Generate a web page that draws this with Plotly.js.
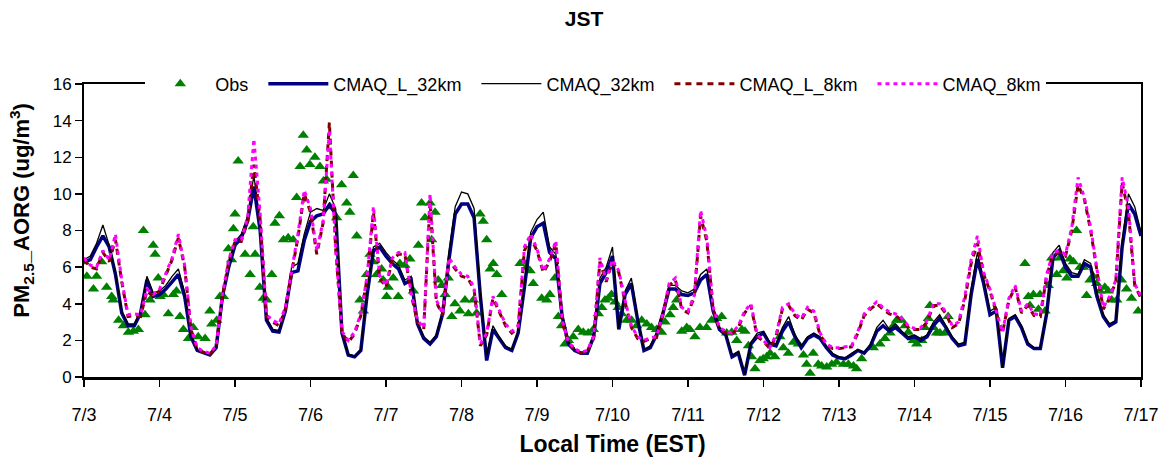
<!DOCTYPE html>
<html>
<head>
<meta charset="utf-8">
<script src="https://cdn.plot.ly/plotly-3.0.1.min.js"></script>
<style>
html, body { margin: 0; padding: 0; background: #fff; }
#chart { width: 1168px; height: 460px; }
</style>
</head>
<body>
<div id="chart"></div>
<script>
// Day labels on the time axis (one tick per midnight, EST)
const dayLabels = ['7/3', '7/4', '7/5', '7/6', '7/7', '7/8', '7/9', '7/10',
                   '7/11', '7/12', '7/13', '7/14', '7/15', '7/16', '7/17'];

// Model output: every 2 hours starting 7/3 00:00 (one row per day + final point)
const modelStepHours = 2;

const cmaqL32km = [
  6.3, 6.4, 7.1, 7.7, 7.1, 5.6, 3.5, 2.8, 2.8, 3.5, 5.3, 4.4,
  4.5, 4.8, 5.2, 5.6, 4.4, 2.2, 1.45, 1.3, 1.2, 1.6, 4.4, 6.0,
  7.2, 7.6, 8.5, 10.4, 8.0, 3.1, 2.5, 2.45, 3.6, 5.7, 5.8, 7.45,
  8.5, 8.8, 8.9, 9.4, 8.9, 2.4, 1.2, 1.1, 1.45, 4.5, 6.9, 7.1,
  6.6, 6.2, 5.9, 5.1, 5.3, 2.9, 2.1, 1.8, 2.2, 3.45, 6.4, 8.9,
  9.45, 9.45, 8.7, 4.4, 0.9, 2.6, 2.1, 1.6, 1.45, 2.4, 4.9, 7.6,
  8.2, 8.4, 6.8, 6.45, 3.3, 1.8, 1.45, 1.3, 1.3, 2.2, 5.1, 5.7,
  6.6, 2.6, 4.5, 5.1, 3.1, 1.45, 1.6, 2.3, 3.45, 4.8, 4.8, 4.5,
  4.45, 4.6, 5.3, 5.6, 3.6, 2.6, 2.3, 1.1, 1.3, 0.1, 1.8, 2.2,
  2.4, 1.8, 1.7, 2.5, 3.0, 2.2, 1.6, 2.1, 2.3, 2.1, 1.6, 1.2,
  1.05, 1.0, 1.2, 1.45, 1.3, 1.7, 2.5, 2.8, 2.5, 2.7, 2.4, 2.1,
  2.2, 2.0, 2.2, 2.8, 3.2, 2.7, 2.1, 1.7, 1.8, 4.5, 6.45, 5.1,
  3.4, 3.6, 0.5, 3.1, 3.3, 2.7, 1.8, 1.55, 1.55, 3.45, 6.5, 6.9,
  6.0, 5.5, 5.5, 6.2, 6.0, 4.4, 3.3, 2.8, 3.0, 7.1, 9.45, 8.9,
  7.7
];

const cmaq32km = [
  6.4, 6.6, 7.3, 8.3, 7.2, 5.7, 3.6, 2.9, 2.9, 3.6, 5.5, 4.6,
  4.7, 5.0, 5.5, 5.9, 4.6, 2.3, 1.5, 1.35, 1.25, 1.7, 4.6, 6.2,
  7.4, 7.8, 8.8, 11.0, 8.5, 3.2, 2.6, 2.55, 3.8, 6.0, 6.2, 7.8,
  9.0, 9.2, 9.1, 10.0, 9.2, 2.5, 1.25, 1.15, 1.5, 4.7, 7.1, 7.3,
  6.8, 6.4, 6.1, 5.3, 5.5, 3.0, 2.2, 1.9, 2.3, 3.6, 6.8, 9.3,
  10.1, 10.0, 9.2, 4.6, 1.2, 2.8, 2.2, 1.7, 1.5, 2.5, 5.1, 7.9,
  8.6, 9.0, 7.1, 6.7, 3.4, 1.9, 1.5, 1.35, 1.35, 2.3, 5.4, 6.0,
  7.1, 2.7, 4.7, 5.4, 3.2, 1.5, 1.7, 2.4, 3.6, 5.0, 5.0, 4.7,
  4.6, 4.8, 5.6, 5.9, 3.8, 2.7, 2.4, 1.2, 1.4, 0.15, 1.9, 2.4,
  2.5, 1.9, 1.8, 2.7, 3.3, 2.3, 1.7, 2.2, 2.4, 2.2, 1.7, 1.3,
  1.1, 1.05, 1.3, 1.5, 1.35, 1.8, 2.7, 3.1, 2.6, 2.9, 2.5, 2.2,
  2.3, 2.1, 2.3, 3.0, 3.4, 2.8, 2.2, 1.8, 1.9, 4.8, 6.8, 5.3,
  3.6, 3.8, 0.55, 3.2, 3.4, 2.8, 1.9, 1.6, 1.6, 3.6, 6.8, 7.2,
  6.2, 5.7, 5.6, 6.4, 6.2, 4.6, 3.4, 2.9, 3.1, 7.4, 10.0, 9.3,
  7.9
];

const cmaqL8km = [
  6.4, 6.0, 5.9, 6.8, 6.3, 7.5, 5.2, 3.3, 3.35, 3.3, 4.7, 4.4,
  4.7, 5.5, 6.4, 7.6, 6.0, 2.6, 1.5, 1.35, 1.25, 1.65, 4.4, 6.3,
  7.4, 7.4, 8.5, 11.6, 8.6, 3.3, 3.0, 2.8, 3.7, 5.7, 7.6, 10.0,
  9.0, 6.7, 8.4, 13.9, 7.0, 2.4, 1.9, 2.35, 3.35, 5.4, 9.0, 5.4,
  4.9, 6.4, 6.7, 6.7, 4.5, 3.0, 2.6, 9.6, 4.1, 3.35, 6.4, 5.9,
  5.5, 5.4, 4.8, 1.7, 2.3, 4.3, 3.5, 2.8, 2.4, 2.7, 6.9, 7.6,
  6.9, 5.7, 6.3, 7.3, 3.0, 1.85, 1.5, 1.3, 1.4, 2.1, 6.3, 5.2,
  6.3, 5.7, 4.1, 2.7, 2.1, 1.95, 2.1, 2.15, 3.35, 5.0, 5.3, 3.7,
  3.5, 4.35, 8.8, 7.4, 3.7, 2.6, 2.4, 2.35, 2.7, 3.5, 3.9, 2.2,
  1.95, 1.55, 2.2, 3.7, 3.9, 3.35, 3.1, 3.7, 3.5, 2.3, 1.75, 1.55,
  1.55, 1.6, 1.65, 2.4, 3.35, 3.7, 4.0, 3.7, 3.45, 3.35, 3.1, 2.7,
  2.6, 2.6, 3.0, 3.9, 3.9, 3.45, 2.7, 2.9, 4.2, 6.2, 7.3, 5.6,
  4.7, 3.5, 2.4, 4.2, 4.9, 3.5, 3.9, 3.35, 3.3, 5.5, 6.7, 6.8,
  6.6, 8.0, 10.5, 9.7, 8.0, 5.8, 3.7, 4.3, 5.2, 10.6, 9.0, 5.0,
  4.3
];

const cmaq8km = [
  6.5, 6.1, 6.0, 6.9, 6.4, 7.8, 5.3, 3.4, 3.45, 3.4, 4.8, 4.5,
  4.8, 5.6, 6.5, 7.8, 6.1, 2.7, 1.6, 1.4, 1.3, 1.7, 4.5, 6.4,
  7.5, 7.5, 8.7, 13.0, 8.9, 3.4, 3.1, 2.9, 3.8, 5.8, 7.8, 10.2,
  9.2, 6.9, 8.5, 13.5, 7.0, 2.5, 2.0, 2.45, 3.45, 5.5, 9.3, 5.5,
  5.0, 6.5, 6.8, 6.8, 4.6, 3.1, 2.7, 10.0, 4.2, 3.45, 6.5, 6.0,
  5.6, 5.5, 4.9, 1.8, 2.4, 4.4, 3.6, 2.9, 2.5, 2.8, 7.1, 7.8,
  7.0, 5.8, 6.45, 7.45, 3.1, 1.9, 1.55, 1.35, 1.45, 2.2, 6.5, 5.3,
  6.4, 5.8, 4.2, 2.8, 2.2, 2.0, 2.15, 2.2, 3.45, 5.1, 5.4, 3.8,
  3.6, 4.45, 9.1, 7.6, 3.8, 2.7, 2.5, 2.4, 2.8, 3.6, 4.0, 2.3,
  2.0, 1.6, 2.3, 3.8, 4.0, 3.45, 3.2, 3.8, 3.6, 2.4, 1.8, 1.6,
  1.6, 1.65, 1.7, 2.5, 3.45, 3.8, 4.1, 3.8, 3.55, 3.45, 3.2, 2.8,
  2.65, 2.7, 3.1, 4.0, 4.0, 3.55, 2.8, 3.0, 4.4, 6.4, 7.7, 5.7,
  4.8, 3.6, 2.45, 4.3, 5.0, 3.6, 4.0, 3.45, 3.4, 5.6, 6.8, 6.9,
  6.7, 8.2, 10.9, 9.8, 8.2, 5.9, 3.8, 4.4, 5.3, 10.9, 9.3, 5.1,
  4.4
];

// Observations: hours since 7/3 00:00 and measured PM2.5 AORG (ug/m3)
const obsHours = [
  0.0, 0.9, 3.0, 4.0, 5.6, 7.2, 8.8, 9.3, 11.0, 12.5, 14.1, 15.7, 17.3, 18.9, 19.4, 21.0, 22.0, 22.6, 23.6,
  24.2, 25.2, 26.8, 28.4, 29.4, 30.5, 31.6, 33.2, 34.7, 36.3, 38.5, 40.0, 40.6, 42.2, 43.2, 44.3, 45.9, 46.9, 47.5,
  48.0, 49.0, 51.2, 52.8, 53.8, 54.4, 55.9, 57.0, 58.1, 59.7, 60.7, 62.1, 63.4, 64.9, 66.5, 67.6, 68.7, 69.7, 70.8, 71.8,
  73.4, 75.0, 76.1, 77.1, 78.2, 80.3, 81.9, 83.5, 84.5, 85.6, 86.7, 87.7, 88.8, 89.8, 90.9, 91.9, 93.0, 94.6, 95.1,
  96.2, 96.7, 98.3, 99.9, 100.4, 102.0, 103.6, 104.7, 106.3, 107.3, 108.4, 110.0, 110.5, 111.6, 112.6, 113.7, 114.8, 115.8, 116.9, 117.9, 119.5,
  121.1, 122.2, 123.8, 124.8, 125.9, 126.9, 128.0, 129.1, 130.1, 131.2, 132.8, 138.6, 139.6, 140.7, 141.8, 142.8,
  145.5, 147.1, 148.1, 149.7, 150.8, 151.8, 152.9, 154.0, 155.5, 157.1, 158.7, 160.3, 161.9, 163.5, 164.6, 165.6, 166.7, 167.7,
  168.8, 169.8, 170.9, 172.5, 174.1, 175.7, 177.3, 178.9, 180.4, 182.0, 183.6, 184.7, 186.3, 187.3, 188.4, 190.0, 191.6,
  192.6, 194.2, 195.8, 197.9, 199.5, 201.1, 202.7, 204.3, 205.9, 207.5, 209.1, 210.1, 211.2, 212.2, 213.3, 214.9,
  215.9, 217.0, 218.1, 219.6, 221.2, 222.3, 223.9, 225.5, 227.1, 228.7, 229.7, 230.8, 231.8, 233.4, 234.5, 236.1, 237.7, 239.2,
  241.4, 243.0, 244.6, 245.6, 247.2, 250.9, 253.0, 254.6, 256.2, 257.3, 258.3, 259.9, 261.0, 262.0,
  263.6, 264.7, 266.3, 267.3, 268.4, 268.9, 270.0, 271.0, 272.1, 273.7, 274.7,
  299.1, 300.2, 300.7, 301.8, 303.4, 303.9, 305.5, 306.5, 307.6, 309.2, 310.2, 311.3,
  312.4, 313.4, 314.5, 315.5, 316.6, 317.7, 318.7, 319.8, 320.8, 321.9, 322.9, 324.5, 325.6, 326.7, 328.3, 329.8, 331.4, 333.0, 335.1
];
const obsValues = [
  6.3, 5.5, 4.8, 5.5, 6.3, 4.9, 4.4, 4.2, 3.1, 2.8, 2.45, 2.5, 2.6, 8.0, 3.4, 4.2, 7.2, 6.7, 5.4,
  4.4, 4.5, 3.45, 4.5, 4.7, 3.3, 2.6, 2.1, 2.7, 2.2, 2.1, 3.6, 2.9, 3.1, 4.4, 4.4, 7.0, 6.4, 8.1,
  8.9, 11.8, 6.7, 5.6, 8.2, 6.7, 4.9, 4.3, 4.2, 5.6, 8.4, 8.8, 7.5, 7.6, 7.5, 9.8, 11.5, 13.2, 12.4, 11.6,
  12.0, 11.5, 10.7, 10.8, 9.3, 8.7, 10.5, 9.5, 9.0, 11.0, 7.7, 4.2, 3.6, 5.6, 6.7, 6.3, 5.6, 5.9, 5.3,
  4.4, 4.9, 5.4, 4.4, 6.2, 6.1, 6.45, 4.7, 7.2, 9.5, 8.7, 9.5, 7.5, 9.0, 5.3, 5.0, 4.5, 5.4, 3.3, 4.0, 3.6,
  4.2, 3.45, 4.2, 3.5, 8.9, 8.5, 7.5, 5.9, 6.2, 5.6, 4.5, 6.2, 6.3, 6.0, 5.8, 5.1,
  4.3, 4.2, 4.5, 5.4, 3.3, 2.8, 1.8, 2.0, 2.2, 2.6, 2.45, 2.4, 2.6, 3.45, 3.8, 4.2, 4.3, 4.5,
  4.1, 3.8, 3.45, 3.1, 3.1, 2.8, 3.1, 2.9, 2.7, 2.6, 2.45, 3.0, 3.4, 3.8, 4.2, 2.5, 2.7,
  2.6, 2.2, 2.7, 2.7, 3.1, 3.2, 3.3, 2.4, 2.45, 2.0, 2.6, 2.5, 1.7, 1.1, 0.45, 0.9,
  1.0, 1.1, 1.3, 1.1, 2.2, 1.6, 1.3, 1.9, 1.8, 1.2, 0.7, 0.2, 1.3, 0.7, 0.6, 0.55, 0.7, 0.8,
  0.7, 0.7, 0.6, 0.45, 1.0, 1.6, 1.8, 2.1, 2.4, 2.8, 3.1, 3.1, 2.8, 2.45,
  2.0, 1.8, 2.0, 2.7, 3.2, 3.9, 2.7, 2.4, 2.4, 2.4, 3.3,
  6.2, 4.4, 3.9, 4.5, 3.7, 4.5, 3.6, 5.0, 6.5, 5.6, 6.5, 5.8,
  5.4, 6.45, 6.3, 8.0, 6.0, 6.0, 4.45, 5.3, 5.5, 5.1, 4.7, 4.9, 4.7, 4.2, 4.2, 5.3, 4.8, 4.3, 3.6
];

const FONT = 'Liberation Sans, Arial, sans-serif';
const GAP = '\u00a0\u00a0'; // extra room after each legend entry

function modelTrace(name, values, line) {
  return {
    type: 'scatter', mode: 'lines', name: name,
    x0: 0, dx: modelStepHours, y: values,
    line: line, hoverinfo: 'skip'
  };
}

const traces = [
  {
    type: 'scatter', mode: 'markers', name: 'Obs' + GAP,
    x: obsHours, y: obsValues,
    marker: { symbol: 'triangle-up', size: 10, color: '#008000', line: { width: 0 } }
  },
  modelTrace('CMAQ_L_32km' + GAP, cmaqL32km, { color: '#000080', width: 3.5 }),
  modelTrace('CMAQ_32km' + GAP, cmaq32km, { color: '#000000', width: 1.3 }),
  modelTrace('CMAQ_L_8km' + GAP, cmaqL8km, { color: '#800000', width: 3, dash: '6px,5px' }),
  modelTrace('CMAQ_8km', cmaq8km, { color: '#FF00FF', width: 3, dash: '4px,4px' })
];

const layout = {
  width: 1168, height: 460,
  margin: { l: 84, r: 27, t: 84, b: 83 },
  paper_bgcolor: '#fff', plot_bgcolor: '#fff',
  font: { family: FONT, color: '#000', size: 16 },
  title: {
    text: '<b>JST</b>', font: { family: FONT, size: 21, color: '#000' },
    x: 0.5, xref: 'container', y: 0.96, yref: 'container', yanchor: 'middle'
  },
  showlegend: true,
  legend: {
    orientation: 'h', x: 0.058, xanchor: 'left', y: 1, yanchor: 'middle',
    bgcolor: '#fff', borderwidth: 0, font: { family: FONT, size: 18, color: '#000' },
    itemwidth: 60, tracegroupgap: 0
  },
  xaxis: {
    range: [0, dayLabels.length * 24 - 24],
    tickvals: dayLabels.map((_, i) => i * 24),
    ticktext: dayLabels,
    ticks: 'outside', ticklen: 7, tickwidth: 1.5, tickcolor: '#000',
    tickfont: { family: FONT, size: 18, color: '#000' },
    ticklabelstandoff: 13,
    showline: true, linecolor: '#000', linewidth: 2.5, mirror: true,
    showgrid: false, zeroline: false,
    title: { text: '<b>Local Time (EST)</b>', font: { family: FONT, size: 23, color: '#000' }, standoff: 12 }
  },
  yaxis: {
    range: [0, 16], dtick: 2, tick0: 0,
    ticks: 'outside', ticklen: 7, tickwidth: 1.5, tickcolor: '#000',
    tickfont: { family: FONT, size: 17, color: '#000' },
    showline: true, linecolor: '#000', linewidth: 2, mirror: true,
    showgrid: false, zeroline: false
  },
  annotations: [{
    // vertical axis title
    text: '<b>PM<sub>2.5</sub>_AORG (ug/m<sup>3</sup>)</b>',
    font: { family: FONT, size: 22, color: '#000' },
    textangle: -90, showarrow: false,
    xref: 'paper', yref: 'paper', x: -0.059, y: 0.57,
    xanchor: 'center', yanchor: 'middle'
  }]
};

Plotly.newPlot('chart', traces, layout, { staticPlot: true, displayModeBar: false });
</script>
</body>
</html>
